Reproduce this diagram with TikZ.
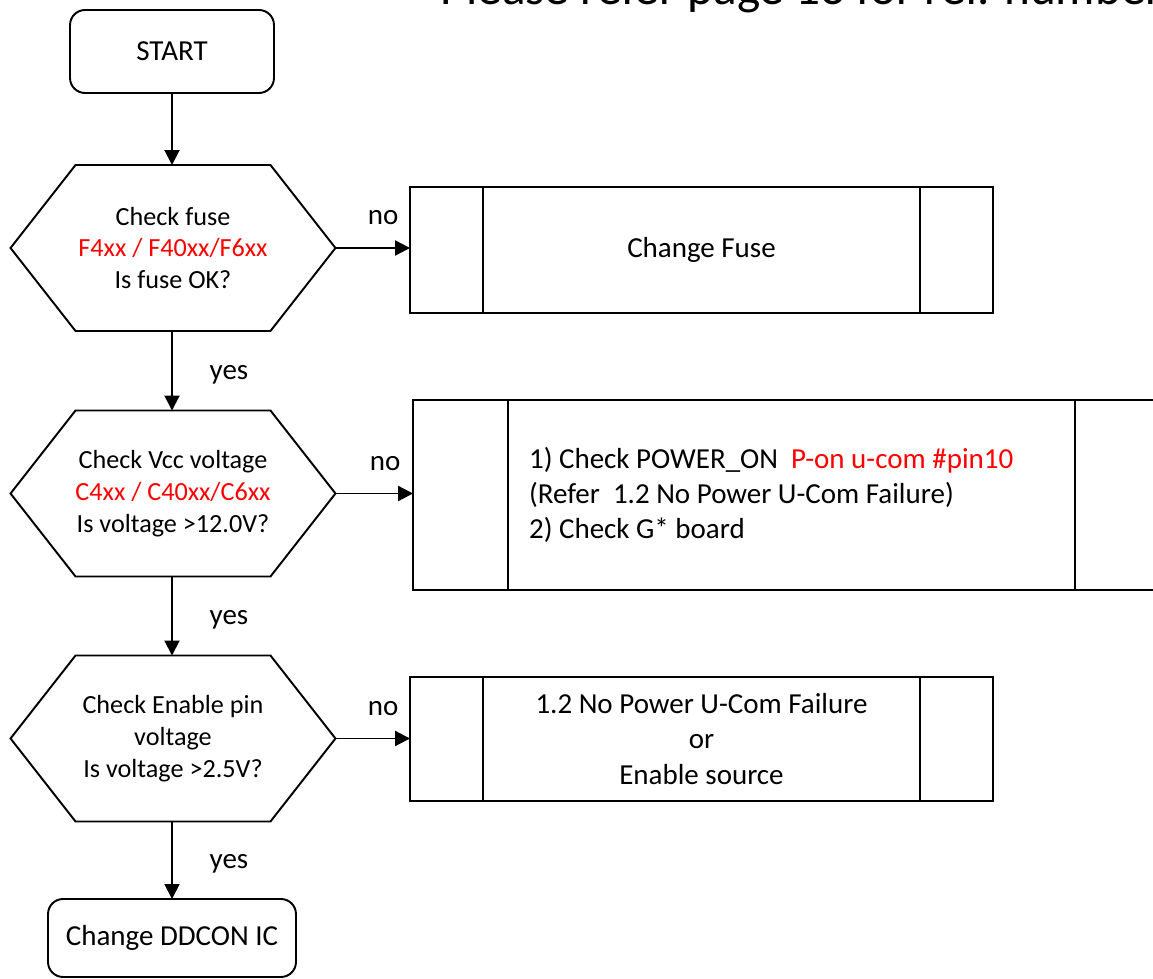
\documentclass[tikz,border=0pt]{standalone}
\usepackage{fontspec}
\setmainfont{Carlito}
\usetikzlibrary{arrows.meta}
\usetikzlibrary{positioning}

\tikzset{
	startstop/.style={draw, rounded corners=0.3cm, outer sep=0pt, font=\fontsize{16.5}{20}\selectfont},
	checkbox/.style={minimum width=6.5cm, minimum height=3.32cm, outer sep=0pt, align=center, font=\fontsize{14.9}{18.2}\selectfont},
	procbox/.style={draw, outer sep=0pt, align=center, font=\fontsize{16.5}{20}\selectfont},
	lbl/.style={font=\fontsize{16.5}{20}\selectfont, inner sep=0pt},
	flow/.style={-{Triangle[length=0.3cm, width=0.3cm]}}
}

% hexagon drawn round a check node
\newcommand{\hexframe}[1]{%
	\draw (#1.west) -- ([xshift=1.3cm]#1.north west) -- ([xshift=-1.3cm]#1.north east)
	-- (#1.east) -- ([xshift=-1.3cm]#1.south east) -- ([xshift=1.3cm]#1.south west) -- cycle;}
% the two inner bars of a process box
\newcommand{\procbars}[2]{%
	\draw ([xshift=#2]#1.north west) -- ([xshift=#2]#1.south west);
	\draw ([xshift=-#2]#1.north east) -- ([xshift=-#2]#1.south east);}

\begin{document}
\begin{tikzpicture}[x=0.02cm, y=-0.02cm, line width=1.1pt]
		\useasboundingbox (0,0) rectangle (1153,979);
		\clip (0,0) rectangle (1153,979);
		
		\node[anchor=base west, inner sep=0pt, font=\fontsize{28}{34}\selectfont] (note) at (440,5) {Please refer page 13 for ref. number};
		
		\node[startstop, minimum width=4.08cm, minimum height=1.66cm] (start) at (172,51.5) {START};
		
		\node[checkbox] (fuse) at (173,248) {Check fuse\\\textcolor{red}{F4xx / F40xx/F6xx}\\Is fuse OK?};
		\hexframe{fuse}
		\node[checkbox] (vcc) at (173,493.5) {Check Vcc voltage\\\textcolor{red}{C4xx / C40xx/C6xx}\\Is voltage >12.0V?};
		\hexframe{vcc}
		\node[checkbox] (enpin) at (173,738.5) {Check Enable pin\\voltage\\Is voltage >2.5V?};
		\hexframe{enpin}
		
		\node[startstop, minimum width=4.96cm, minimum height=1.56cm] (ddcon) at (172,938) {Change DDCON IC};
		
		\node[procbox, minimum width=11.66cm, minimum height=2.52cm] (chfuse) at (701.5,250) {Change Fuse};
		\procbars{chfuse}{1.46cm}
		\node[procbox, minimum width=15.14cm, minimum height=3.8cm, text width=10.5cm, inner xsep=2.32cm, align=flush left] (pwron) at (791.5,495)
			{1) Check POWER\_ON\ \ \textcolor{red}{P-on u-com \#pin10}\\(Refer\ \ 1.2 No Power U-Com Failure)\\2) Check G* board};
		\procbars{pwron}{1.9cm}
		\node[procbox, minimum width=11.66cm, minimum height=2.48cm] (ensrc) at (701.5,739) {1.2 No Power U-Com Failure\\or\\Enable source};
		\procbars{ensrc}{1.46cm}
		
		\draw[flow] (start.south -| 172,0) -- (fuse.north -| 172,0);
		\draw[flow] (fuse.south -| 172,0) -- (vcc.north -| 172,0) node[lbl, pos=0.55, xshift=1.14cm] {yes};
		\draw[flow] (vcc.south -| 172,0) -- (enpin.north -| 172,0) node[lbl, pos=0.55, xshift=1.14cm] {yes};
		\draw[flow] (enpin.south -| 172,0) -- (ddcon.north) node[lbl, pos=0.55, xshift=1.14cm] {yes};
		
		\draw[flow] (fuse.east) -- (fuse.east -| chfuse.west) node[lbl, pos=0.64, yshift=0.6cm] {no};
		\draw[flow] (vcc.east) -- (vcc.east -| pwron.west) node[lbl, pos=0.64, yshift=0.6cm] {no};
		\draw[flow] (enpin.east) -- (enpin.east -| ensrc.west) node[lbl, pos=0.64, yshift=0.6cm] {no};
	\end{tikzpicture}
\end{document}
